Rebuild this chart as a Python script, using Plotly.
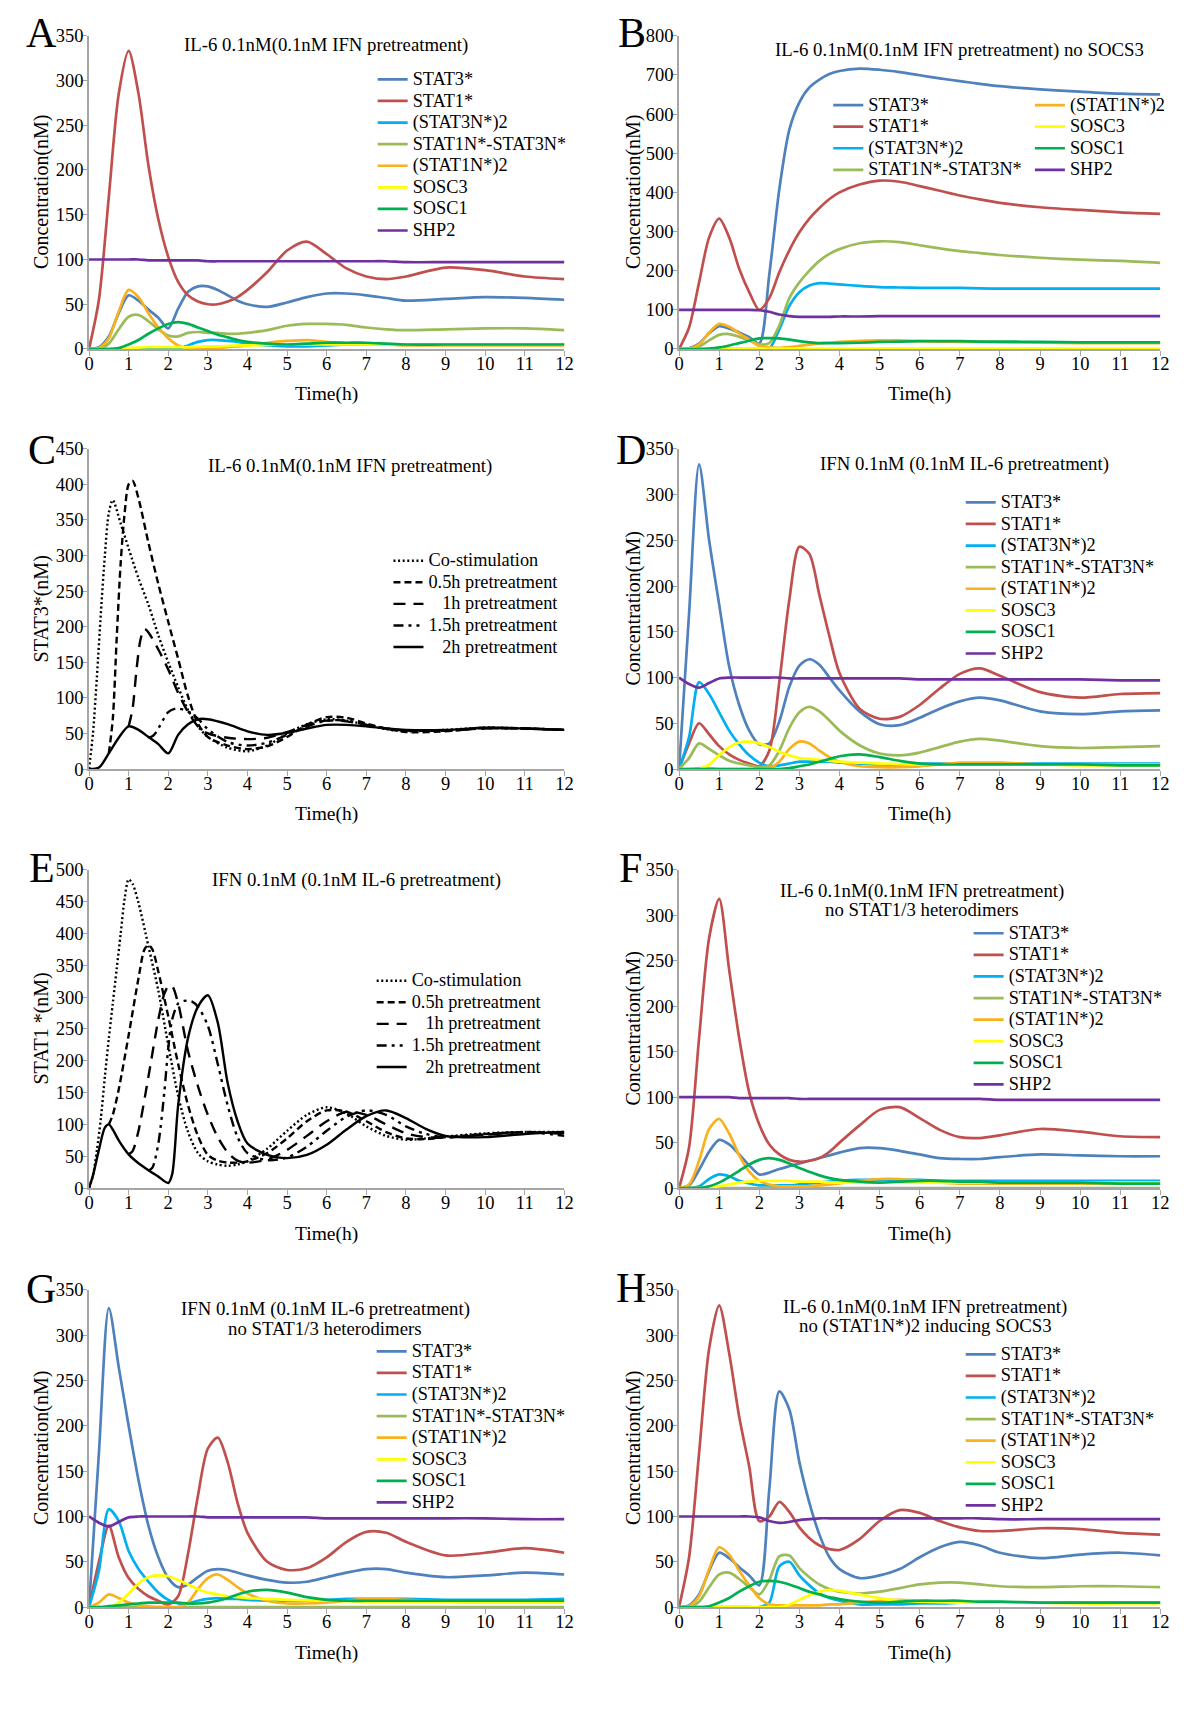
import plotly.graph_objects as go

FONT = "Liberation Serif, Times New Roman, serif"
W, H = 1200, 1712

# ---------------- shared time grid (hours) for the coloured panels ----------------
T = [0, 0.25, 0.5, 0.75, 1, 1.25, 1.5, 1.75, 2, 2.25, 2.5, 2.75, 3, 3.25, 3.5, 3.75, 4,
     4.5, 5, 5.5, 6, 6.5, 7, 7.5, 8, 9, 10, 11, 12]

SPECIES = ["STAT3*", "STAT1*", "(STAT3N*)2", "STAT1N*-STAT3N*", "(STAT1N*)2", "SOSC3", "SOSC1", "SHP2"]
COLORS = ["#4F81BD", "#C0504D", "#00B0F0", "#9BBB59", "#F9B21D", "#FFFF00", "#00B050", "#7030A0"]

# ---------------- Panel A ----------------
A_STAT3 = [0, 2, 14, 40, 60, 54, 44, 35, 23, 45, 64, 70, 70, 66, 60, 54, 50, 47, 52, 58, 62, 62, 60, 57, 54, 56, 58, 57, 55]
A_STAT1 = [0, 55, 170, 285, 333, 285, 205, 145, 103, 75, 60, 53, 50, 50, 53, 58, 66, 86, 110, 120, 106, 90, 81, 78, 81, 91, 88, 81, 78]
A_STAT3N2 = [0, 0, 0, 0, 0, 0, 0, 0, 0, 0, 4, 8, 10, 10, 9, 8, 6, 4, 3, 3, 4, 5, 5, 5, 5, 5, 5, 5, 5]
A_HET = [0, 0, 6, 22, 36, 38, 31, 22, 15, 14, 18, 19, 18, 18, 17, 17, 18, 21, 26, 28, 28, 27, 24, 22, 21, 22, 23, 23, 21]
A_STAT1N2 = [0, 1, 12, 42, 66, 58, 40, 24, 12, 4, 1, 1, 1, 1, 2, 3, 4, 7, 9, 10, 8, 6, 5, 5, 4, 4, 4, 4, 4]
A_SOCS3 = [0, 0, 0, 0.5, 1, 1.5, 2, 2, 2, 2, 2, 2.5, 3, 3, 3.5, 4, 4, 4.5, 5, 5, 5, 5, 5, 5, 5, 5, 5, 5, 5]
A_SOCS1 = [0, 0, 0, 1, 5, 10, 17, 23, 28, 30, 28, 24, 20, 16, 13, 10, 8, 6, 5, 6, 7, 7, 7, 6, 5, 5, 5, 5, 5]
A_SHP2 = [100, 100, 100, 100, 100, 100, 99, 99, 99, 99, 99, 99, 98, 98, 98, 98, 98, 98, 98, 98, 98, 98, 98, 98, 97, 97, 97, 97, 97]

# ---------------- Panel B (no SOCS3) ----------------
B_STAT3 = [0, 2, 14, 40, 58, 52, 42, 30, 14, 190, 408, 560, 630, 668, 688, 702, 710, 716, 713, 707, 699, 691, 684, 677, 671, 663, 657, 652, 650]
B_STAT1 = [0, 55, 170, 285, 333, 285, 205, 145, 100, 130, 196, 252, 298, 333, 360, 383, 400, 420, 430, 427, 416, 404, 392, 382, 373, 362, 355, 349, 345]
B_STAT3N2 = [0, 0, 0, 0, 0, 0, 0, 0, 0, 1, 50, 110, 145, 162, 168, 167, 165, 161, 158, 157, 156, 156, 156, 155, 154, 154, 154, 154, 154]
B_HET = [0, 0, 6, 22, 36, 38, 31, 22, 12, 15, 60, 130, 170, 200, 225, 243, 255, 270, 275, 273, 265, 257, 250, 245, 240, 233, 228, 225, 220]
B_STAT1N2 = [0, 1, 12, 42, 64, 57, 40, 24, 8, 4, 3, 5, 8, 11, 14, 16, 18, 21, 22, 22, 20, 19, 18, 18, 17, 16, 15, 15, 15]
B_SOCS3 = [0, 0, 0, 0.5, 1, 1, 1, 1, 1, 1, 1, 1, 1, 1, 1, 1, 1, 1, 1, 1, 1, 1, 1, 1, 1, 1, 1, 1, 1]
B_SOCS1 = [0, 0, 0, 1, 4, 9, 15, 21, 27, 28, 27, 24, 20, 17, 15, 15, 15, 16, 18, 19, 20, 20, 20, 19, 19, 18, 17, 17, 17]
B_SHP2 = [100, 100, 100, 100, 100, 100, 100, 100, 99, 95, 88, 84, 82, 82, 82, 82, 83, 83, 84, 84, 84, 84, 84, 84, 84, 84, 84, 84, 84]

# ---------------- Panel D ----------------
D_STAT3 = [0, 170, 333, 250, 180, 112, 70, 42, 27, 28, 52, 90, 113, 120, 114, 100, 86, 63, 49, 48, 56, 66, 74, 78, 75, 63, 60, 63, 64]
D_STAT1 = [0, 28, 50, 38, 25, 16, 10, 6, 3, 20, 95, 185, 243, 235, 190, 145, 105, 66, 55, 57, 70, 88, 104, 110, 102, 84, 78, 82, 83]
D_STAT3N2 = [0, 35, 95, 82, 62, 42, 27, 15, 7, 3, 4, 6, 8, 8, 8, 8, 7, 6, 5, 5, 6, 6, 6, 6, 6, 6, 6, 6, 6]
D_HET = [0, 12, 28, 22, 15, 9, 6, 4, 2, 4, 20, 45, 62, 68, 63, 53, 42, 26, 17, 15, 18, 24, 30, 33, 31, 25, 23, 24, 25]
D_STAT1N2 = [0, 0, 1, 1, 0, 0, 0, 0, 0, 1, 8, 22, 30, 28, 20, 13, 8, 3, 2, 2, 3, 5, 7, 7, 7, 5, 5, 5, 5]
D_SOCS3 = [0, 0, 0, 5, 15, 24, 29, 30, 28, 24, 19, 15, 12, 11, 10, 9, 8, 7, 6, 5.5, 5, 5, 5, 5, 5, 5, 4, 4, 4]
D_SOCS1 = [0, 0, 0, 0, 0, 0, 0, 0, 0, 0, 0, 1, 3, 5, 8, 11, 14, 16, 13, 9, 6, 5, 5, 5, 5, 5, 5, 4, 4]
D_SHP2 = [100, 93, 89, 94, 99, 100, 100, 100, 100, 100, 100, 99, 99, 99, 99, 99, 99, 99, 99, 99, 98, 98, 98, 98, 98, 98, 98, 97, 97]

# ---------------- Panel F (no heterodimers) ----------------
F_STAT3 = [0, 3, 20, 40, 53, 48, 37, 25, 15, 17, 21, 24, 27, 30, 33, 36, 39, 44, 44, 41, 37, 33, 32, 32, 34, 37, 36, 35, 35]
F_STAT1 = [0, 45, 165, 275, 318, 240, 165, 105, 70, 48, 37, 31, 29, 30, 33, 40, 50, 69, 86, 89, 77, 64, 56, 55, 58, 65, 62, 57, 56]
F_STAT3N2 = [0, 0, 2, 10, 15, 13, 8, 5, 3, 3, 3, 3, 4, 5, 6, 7, 8, 9, 9, 9, 9, 8, 8, 8, 8, 8, 8, 8, 8]
F_HET = [0, 0, 0, 0, 0, 0, 0, 0, 0, 0, 0, 0, 0, 0, 0, 0, 0, 0, 0, 0, 0, 0, 0, 0, 0, 0, 0, 0, 0]
F_STAT1N2 = [0, 4, 30, 65, 76, 60, 36, 18, 8, 4, 2, 2, 2, 2, 3, 4, 5, 8, 10, 10, 8, 6, 5, 5, 5, 5, 5, 5, 5]
F_SOCS3 = [0, 0, 0, 0, 2, 4, 6, 7, 8, 8, 8, 8, 7, 7, 7, 6, 6, 6, 6, 6, 6, 6, 6, 6, 6, 6, 6, 6, 6]
F_SOCS1 = [0, 0, 0, 2, 6, 12, 19, 26, 31, 33, 31, 27, 22, 18, 14, 11, 9, 7, 6, 7, 8, 8, 7, 7, 6, 6, 6, 5, 5]
F_SHP2 = [100, 100, 100, 100, 100, 100, 99, 99, 99, 99, 99, 99, 98, 98, 98, 98, 98, 98, 98, 98, 98, 98, 98, 98, 97, 97, 97, 97, 97]

# ---------------- Panel G (no heterodimers, IFN) ----------------
G_STAT3 = [0, 170, 330, 265, 200, 140, 90, 55, 32, 22, 25, 33, 40, 42, 41, 38, 35, 30, 27, 28, 33, 38, 42, 42, 38, 33, 35, 38, 36]
G_STAT1 = [0, 50, 90, 55, 32, 20, 12, 7, 3, 12, 59, 123, 175, 187, 160, 115, 82, 50, 41, 43, 55, 72, 83, 82, 72, 57, 60, 65, 60]
G_STAT3N2 = [0, 40, 108, 95, 62, 42, 28, 16, 8, 4, 4, 7, 9, 10, 9, 9, 8, 7, 7, 7, 8, 9, 9, 9, 9, 8, 8, 8, 9]
G_HET = [0, 0, 0, 0, 0, 0, 0, 0, 0, 0, 0, 0, 0, 0, 0, 0, 0, 0, 0, 0, 0, 0, 0, 0, 0, 0, 0, 0, 0]
G_STAT1N2 = [0, 5, 14, 10, 5, 2, 1, 0, 0, 0, 5, 20, 32, 36, 30, 22, 15, 7, 4, 4, 5, 7, 9, 9, 8, 6, 5, 5, 5]
G_SOCS3 = [0, 0, 0, 5, 15, 26, 33, 35, 34, 30, 25, 20, 16, 14, 12, 11, 10, 9, 8, 7.5, 7, 6.5, 6, 6, 6, 6, 5, 5, 5]
G_SOCS1 = [0, 0, 1, 2, 3, 4, 5, 5, 5, 5, 4, 4, 5, 7, 10, 14, 17, 19, 16, 11, 8, 7, 7, 7, 7, 7, 7, 7, 7]
G_SHP2 = [100, 93, 89, 94, 99, 100, 100, 100, 100, 100, 100, 100, 99, 99, 99, 99, 99, 99, 99, 99, 98, 98, 98, 98, 98, 98, 98, 97, 97]

# ---------------- Panel H (no (STAT1N*)2 inducing SOCS3) ----------------
H_STAT3 = [0, 2, 14, 40, 60, 54, 44, 35, 24, 130, 238, 218, 160, 115, 80, 55, 42, 32, 35, 42, 55, 66, 72, 68, 60, 54, 58, 60, 57]
H_STAT1 = [0, 55, 170, 285, 333, 280, 210, 155, 95, 100, 116, 105, 88, 76, 68, 64, 63, 75, 95, 107, 104, 95, 88, 84, 84, 87, 86, 82, 80]
H_STAT3N2 = [0, 0, 0, 0, 0, 0, 0, 0, 0, 5, 45, 50, 35, 24, 15, 10, 7, 3, 3, 3, 4, 4, 5, 5, 5, 5, 5, 5, 5]
H_HET = [0, 0, 6, 22, 36, 38, 31, 22, 14, 30, 56, 57, 43, 33, 25, 20, 17, 15, 17, 21, 25, 27, 27, 25, 23, 22, 23, 23, 22]
H_STAT1N2 = [0, 1, 12, 42, 66, 58, 40, 24, 10, 3, 2, 2, 2, 2, 2, 3, 3, 5, 7, 8, 7, 6, 5, 5, 5, 5, 5, 5, 5]
H_SOCS3 = [0, 0, 0, 0, 0, 0, 0, 0, 0, 0, 0, 3, 8, 13, 17, 19, 18, 14, 10, 7, 6, 5.5, 5, 5, 5, 5, 4, 4, 4]
H_SOCS1 = [0, 0, 0, 1, 5, 10, 17, 23, 28, 29, 28, 25, 21, 17, 14, 11, 9, 6, 5, 6, 7, 7, 7, 6, 6, 5, 5, 5, 5]
H_SHP2 = [100, 100, 100, 100, 100, 100, 100, 100, 99, 95, 93, 94, 96, 97, 98, 98, 98, 98, 98, 98, 98, 98, 98, 98, 97, 97, 97, 97, 97]

# ---------------- Panel C : STAT3* under pretreatment schedules ----------------
PRE_LABELS = ["Co-stimulation", "0.5h pretreatment", "1h pretreatment", "1.5h pretreatment", "2h pretreatment"]
PRE_PAD = [0, 0, 3, 0, 3]   # leading spaces in the legend text
PRE_DASH = ["2px,2.6px", "7px,4px", "12px,8px", "10px,5px,3px,5px,3px,5px", "solid"]

C_COSTIM_T = [0, 0.1, 0.2, 0.3, 0.4, 0.5, 0.6, 0.8, 1.0, 1.25, 1.5, 1.75, 2.0, 2.25, 2.5, 2.75, 3.0, 3.5, 4.0, 4.5, 5.0, 5.5, 6.0, 6.5, 7.0, 7.5, 8.0, 9, 10, 11, 12]
C_COSTIM = [0, 50, 130, 220, 300, 360, 378, 345, 310, 268, 231, 188, 150, 115, 83, 60, 45, 30, 25, 33, 50, 63, 70, 68, 62, 56, 53, 55, 58, 57, 55]
C_P05_T = [0.5, 0.6, 0.7, 0.8, 0.9, 1.0, 1.1, 1.25, 1.5, 1.75, 2.0, 2.25, 2.5, 2.75, 3.0, 3.5, 4.0, 4.5, 5.0, 5.5, 6.0, 6.5, 7.0, 7.5, 8.0, 9, 10, 11, 12]
C_P05 = [22, 70, 185, 290, 360, 400, 405, 380, 318, 260, 207, 155, 102, 64, 45, 33, 28, 32, 45, 62, 73, 72, 64, 57, 52, 53, 58, 57, 55]
C_P1_T = [1.0, 1.1, 1.2, 1.3, 1.4, 1.5, 1.75, 2.0, 2.25, 2.5, 2.75, 3.0, 3.5, 4.0, 4.5, 5.0, 5.5, 6.0, 6.5, 7.0, 7.5, 8.0, 9, 10, 11, 12]
C_P1 = [60, 85, 140, 182, 197, 192, 168, 140, 107, 80, 60, 50, 44, 42, 44, 52, 62, 68, 67, 62, 57, 54, 54, 57, 57, 55]
C_P15_T = [1.5, 1.6, 1.7, 1.8, 1.9, 2.0, 2.2, 2.4, 2.6, 2.8, 3.0, 3.5, 4.0, 4.5, 5.0, 5.5, 6.0, 6.5, 7.0, 7.5, 8.0, 9, 10, 11, 12]
C_P15 = [44, 46, 52, 62, 72, 80, 85, 83, 78, 68, 56, 38, 33, 37, 48, 60, 68, 68, 62, 57, 54, 54, 57, 57, 55]
C_P2_T = [0, 0.25, 0.5, 0.75, 1.0, 1.25, 1.5, 1.75, 2.0, 2.25, 2.5, 2.75, 3.0, 3.5, 4.0, 4.5, 5.0, 5.5, 6.0, 6.5, 7.0, 7.5, 8.0, 9, 10, 11, 12]
C_P2 = [0, 2, 22, 44, 60, 55, 45, 35, 22, 48, 63, 70, 70, 63, 53, 48, 51, 57, 62, 62, 60, 57, 55, 55, 58, 57, 55]

# ---------------- Panel E : STAT1* under pretreatment schedules ----------------
E_COSTIM_T = [0, 0.1, 0.2, 0.3, 0.4, 0.5, 0.6, 0.7, 0.8, 0.9, 1.0, 1.1, 1.25, 1.5, 1.75, 2.0, 2.25, 2.5, 2.75, 3.0, 3.25, 3.5, 3.75, 4.0, 4.5, 5.0, 5.5, 6.0, 6.5, 7.0, 7.5, 8.0, 8.5, 9.0, 10, 11, 12]
E_COSTIM = [0, 20, 60, 110, 175, 235, 290, 345, 400, 455, 485, 478, 448, 380, 310, 225, 145, 88, 55, 42, 37, 35, 37, 42, 62, 90, 115, 127, 117, 97, 82, 76, 78, 81, 86, 88, 88]
E_P05_T = [0.5, 0.6, 0.75, 1.0, 1.25, 1.4, 1.5, 1.6, 1.75, 2.0, 2.25, 2.5, 2.75, 3.0, 3.25, 3.5, 3.75, 4.0, 4.5, 5.0, 5.5, 6.0, 6.5, 7.0, 7.5, 8.0, 8.5, 9.0, 10, 11, 12]
E_P05 = [100, 115, 155, 240, 330, 375, 382, 375, 340, 270, 195, 130, 82, 52, 43, 40, 40, 42, 55, 78, 105, 122, 120, 105, 88, 78, 77, 80, 85, 88, 86]
E_P1_T = [1.0, 1.1, 1.25, 1.5, 1.75, 1.9, 2.0, 2.1, 2.25, 2.5, 2.75, 3.0, 3.25, 3.5, 3.75, 4.0, 4.5, 5.0, 5.5, 6.0, 6.5, 7.0, 7.5, 8.0, 8.5, 9.0, 10, 11, 12]
E_P1 = [53, 58, 90, 175, 265, 305, 317, 317, 290, 215, 160, 115, 80, 56, 43, 40, 45, 60, 82, 105, 120, 115, 100, 86, 80, 79, 84, 88, 85]
E_P15_T = [1.5, 1.6, 1.75, 1.9, 2.0, 2.1, 2.25, 2.4, 2.5, 2.6, 2.75, 3.0, 3.25, 3.5, 3.75, 4.0, 4.5, 5.0, 5.5, 6.0, 6.5, 7.0, 7.5, 8.0, 8.5, 9.0, 10, 11, 12]
E_P15 = [27, 32, 70, 150, 220, 265, 290, 294, 294, 293, 285, 255, 195, 130, 80, 55, 44, 48, 65, 90, 112, 122, 115, 97, 85, 80, 84, 88, 82]
E_P2_T = [0, 0.1, 0.25, 0.4, 0.5, 0.6, 0.75, 1.0, 1.25, 1.5, 1.75, 2.0, 2.1, 2.25, 2.5, 2.75, 3.0, 3.25, 3.5, 3.75, 4.0, 4.5, 5.0, 5.5, 6.0, 6.5, 7.0, 7.5, 8.0, 8.5, 9.0, 10, 11, 12]
E_P2 = [0, 20, 60, 95, 100, 92, 75, 53, 39, 28, 18, 8, 22, 130, 236, 285, 303, 260, 165, 105, 70, 52, 47, 52, 68, 92, 113, 122, 110, 93, 82, 80, 85, 88]

# ---------------- text ----------------
LETTERS = ["A", "B", "C", "D", "E", "F", "G", "H"]
TITLES = [
    ["IL-6 0.1nM(0.1nM IFN pretreatment)"],
    ["IL-6 0.1nM(0.1nM IFN pretreatment) no SOCS3"],
    ["IL-6 0.1nM(0.1nM IFN pretreatment)"],
    ["IFN 0.1nM (0.1nM IL-6 pretreatment)"],
    ["IFN 0.1nM (0.1nM IL-6 pretreatment)"],
    ["IL-6 0.1nM(0.1nM IFN pretreatment)", "no STAT1/3 heterodimers"],
    ["IFN 0.1nM (0.1nM IL-6 pretreatment)", "no STAT1/3 heterodimers"],
    ["IL-6 0.1nM(0.1nM IFN pretreatment)", "no (STAT1N*)2 inducing SOCS3"],
]
YTITLES = ["Concentration(nM)", "Concentration(nM)", "STAT3*(nM)", "Concentration(nM)",
           "STAT1 *(nM)", "Concentration(nM)", "Concentration(nM)", "Concentration(nM)"]
XTITLE = "Time(h)"
YMAX = [350, 800, 450, 350, 500, 350, 350, 350]
YDTICK = [50, 100, 50, 50, 50, 50, 50, 50]

# ---------------- geometry (pixels) ----------------
COLS = [(85, 566), (682, 1169)]
ROWS = [(26, 343), (444, 768), (870, 1192), (1295, 1616)]
TITLE_POS = [(325, [35]), (966, [40]), (349, [461]), (971, [459]), (356, [880]),
             (928, [891, 910]), (324, [1314, 1334]), (931, [1312, 1332])]
LETTER_POS = [(37, 23), (634, 23), (37, 445), (633, 445), (37, 868), (633, 868), (36, 1294), (633, 1293)]
YTITLE_X = [37, 636]
LEG_FONT = 14.3
LEG_TEXT = 18.3
LEG_ITEM_H = LEG_FONT * 1.3 + 3
LEG_POS = {"legend": (412, 70), "legend2": (873, 96), "legend3": (1077, 96), "legend4": (428, 557),
           "legend5": (1007, 498), "legend6": (411, 982), "legend7": (1015, 934),
           "legend8": (411, 1357), "legend9": (1007, 1360)}
PANEL_LEGEND = ["legend", "legend2", "legend4", "legend5", "legend6", "legend7", "legend8", "legend9"]


def px(x):
    return x / W


def py(y):
    return 1 - y / H


def leg_name(label, pad=0):
    return "<span style='font-size:%spx'>" % LEG_TEXT + "\u00a0" * pad + label + "</span>"


fig = go.Figure()

axis_common = dict(showgrid=False, zeroline=False, showline=True, linecolor="#A6A6A6", linewidth=1.5,
                   ticks="outside", ticklen=5, tickwidth=1.2, tickcolor="#A6A6A6",
                   tickfont=dict(family=FONT, size=18.5, color="black"), layer="below traces",
                   fixedrange=True)

layout = dict(width=W, height=H, margin=dict(l=0, r=0, t=0, b=0), paper_bgcolor="white",
              plot_bgcolor="white", showlegend=True, font=dict(family=FONT, color="black"),
              hovermode=False)
annotations = []

for i in range(8):
    col, row = i % 2, i // 2
    x0, x1 = COLS[col]
    y0, y1 = ROWS[row]
    n = "" if i == 0 else str(i + 1)
    layout["xaxis" + n] = dict(domain=[px(x0), px(x1)], anchor="y" + n, range=[0, 12], dtick=1, tick0=0,
                               ticklabelstandoff=-8, **axis_common)
    layout["yaxis" + n] = dict(domain=[py(y1), py(y0)], anchor="x" + n, range=[0, YMAX[i]],
                               dtick=YDTICK[i], tick0=0, ticklabelstandoff=-5, **axis_common)
    # panel letter
    lx, ly = LETTER_POS[i]
    annotations.append(dict(xref="paper", yref="paper", x=px(lx), y=py(ly), text=LETTERS[i], showarrow=False,
                            font=dict(family=FONT, size=42, color="black"), xanchor="center", yanchor="middle"))
    # panel title lines
    tx, tys = TITLE_POS[i]
    for line, ty in zip(TITLES[i], tys):
        annotations.append(dict(xref="paper", yref="paper", x=px(tx), y=py(ty), text=line, showarrow=False,
                                font=dict(family=FONT, size=18.8, color="black"),
                                xanchor="center", yanchor="middle"))
    # axis titles
    annotations.append(dict(xref="paper", yref="paper", x=px(YTITLE_X[col]), y=py((y0 + y1) / 2),
                            text=YTITLES[i], textangle=-90, showarrow=False,
                            font=dict(family=FONT, size=20, color="black"), xanchor="center", yanchor="middle"))
    annotations.append(dict(xref="paper", yref="paper", x=px((x0 + x1) / 2), y=py(y1 + 46), text=XTITLE,
                            showarrow=False, font=dict(family=FONT, size=19.5, color="black"),
                            xanchor="center", yanchor="middle"))

COLOR_PANELS = {
    0: [A_STAT3, A_STAT1, A_STAT3N2, A_HET, A_STAT1N2, A_SOCS3, A_SOCS1, A_SHP2],
    1: [B_STAT3, B_STAT1, B_STAT3N2, B_HET, B_STAT1N2, B_SOCS3, B_SOCS1, B_SHP2],
    3: [D_STAT3, D_STAT1, D_STAT3N2, D_HET, D_STAT1N2, D_SOCS3, D_SOCS1, D_SHP2],
    5: [F_STAT3, F_STAT1, F_STAT3N2, F_HET, F_STAT1N2, F_SOCS3, F_SOCS1, F_SHP2],
    6: [G_STAT3, G_STAT1, G_STAT3N2, G_HET, G_STAT1N2, G_SOCS3, G_SOCS1, G_SHP2],
    7: [H_STAT3, H_STAT1, H_STAT3N2, H_HET, H_STAT1N2, H_SOCS3, H_SOCS1, H_SHP2],
}

for i, series in COLOR_PANELS.items():
    n = "" if i == 0 else str(i + 1)
    for k, (label, color, ys) in enumerate(zip(SPECIES, COLORS, series)):
        leg = PANEL_LEGEND[i]
        if i == 1 and k >= 4:
            leg = "legend3"
        fig.add_trace(go.Scatter(x=T, y=ys, mode="lines", name=leg_name(label),
                                 line=dict(color=color, width=2.7, shape="spline", smoothing=0.8),
                                 xaxis="x" + n, yaxis="y" + n, legend=leg, hoverinfo="skip"))

BLACK_PANELS = {
    2: [(C_COSTIM_T, C_COSTIM), (C_P05_T, C_P05), (C_P1_T, C_P1), (C_P15_T, C_P15), (C_P2_T, C_P2)],
    4: [(E_COSTIM_T, E_COSTIM), (E_P05_T, E_P05), (E_P1_T, E_P1), (E_P15_T, E_P15), (E_P2_T, E_P2)],
}
for i, series in BLACK_PANELS.items():
    n = str(i + 1)
    for k, (xs, ys) in enumerate(series):
        fig.add_trace(go.Scatter(x=xs, y=ys, mode="lines", name=leg_name(PRE_LABELS[k], PRE_PAD[k]),
                                 line=dict(color="black", width=2.4, dash=PRE_DASH[k], shape="spline",
                                           smoothing=0.8),
                                 xaxis="x" + n, yaxis="y" + n, legend=PANEL_LEGEND[i], hoverinfo="skip"))

for lid, (tx, cy) in LEG_POS.items():
    layout[lid] = dict(x=px(tx - 40), y=py(cy - 5 - LEG_ITEM_H / 2), xanchor="left", yanchor="top",
                       bgcolor="rgba(0,0,0,0)", borderwidth=0, tracegroupgap=0,
                       font=dict(family=FONT, size=LEG_FONT, color="black"))

layout["annotations"] = annotations
fig.update_layout(**layout)

# make the page exactly the figure (no default body margin / scrollbars)
PAGE_CSS_JS = ("document.body.style.margin='0';document.body.style.padding='0';"
               "document.body.style.overflow='hidden';document.documentElement.style.overflow='hidden';")
fig.write_html("out.html", post_script=PAGE_CSS_JS, config={"displayModeBar": False})
